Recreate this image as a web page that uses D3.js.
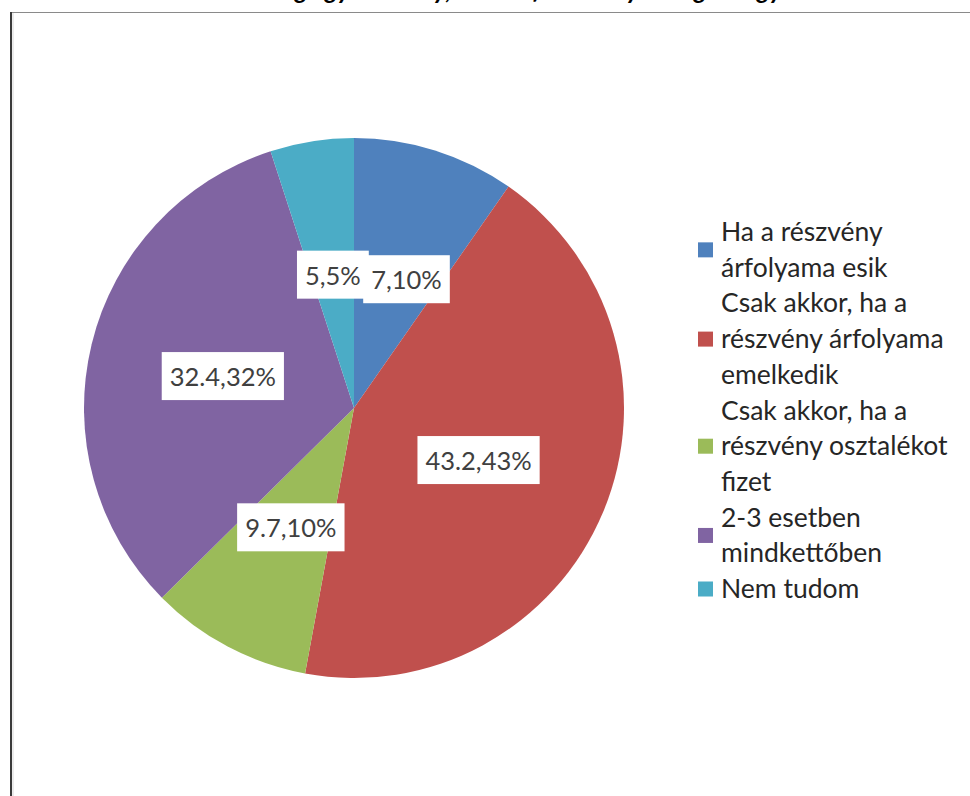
<!DOCTYPE html>
<html>
<head>
<meta charset="utf-8">
<script src="https://cdn.jsdelivr.net/npm/d3@7"></script>
<style>
  html, body { margin: 0; padding: 0; background: #ffffff; overflow: hidden; }
  svg { display: block; }
</style>
</head>
<body>
<svg id="chart" width="970" height="796"></svg>
<script>
// ---- data ----
const titleText = "Ön szerint mikor éri meg egy részvény, ha a befektető nyereséget vagy hozamot vár?";
const categories = [
  "Ha a részvény árfolyama esik",
  "Csak akkor, ha a részvény árfolyama emelkedik",
  "Csak akkor, ha a részvény osztalékot fizet",
  "2-3 esetben mindkettőben",
  "Nem tudom"
];
const values = [9.7, 43.2, 9.7, 32.4, 5];
const dataLabels = ["7,10%", "43.2,43%", "9.7,10%", "32.4,32%", "5,5%"];
const colors = ["#4F81BD", "#C0504D", "#9BBB59", "#8064A2", "#4BACC6"];

// ---- layout ----
const W = 970, H = 796;
const font = "Lato, 'Open Sans', sans-serif";
const svg = d3.select("#chart");

// title (cut off at top, as in the reference)
svg.append("text")
  .attr("x", 490).attr("y", -1)
  .attr("text-anchor", "middle")
  .attr("font-family", font)
  .attr("font-size", 25)
  .attr("font-weight", "bold")
  .attr("font-style", "italic")
  .attr("fill", "#000")
  .text(titleText);

// chart frame
svg.append("line").attr("x1", 10).attr("x2", W).attr("y1", 12.5).attr("y2", 12.5)
  .attr("stroke", "#8a8a8a").attr("stroke-width", 1.2);
svg.append("line").attr("x1", 11).attr("x2", 11).attr("y1", 12).attr("y2", H)
  .attr("stroke", "#3a3a3a").attr("stroke-width", 2);
svg.append("line").attr("x1", 13).attr("x2", 13).attr("y1", 13).attr("y2", H)
  .attr("stroke", "#d8d8d8").attr("stroke-width", 1);

// pie
const cx = 354, cy = 408, R = 270;
const pie = d3.pie().sort(null).value(d => d.value);
const arcs = pie(values.map((v, i) => ({ value: v, i })));
const arc = d3.arc().innerRadius(0).outerRadius(R);
const labelArc = d3.arc().innerRadius(R * 0.5).outerRadius(R * 0.5);

const g = svg.append("g").attr("transform", `translate(${cx},${cy})`);
g.selectAll("path.slice").data(arcs).enter().append("path")
  .attr("class", "slice")
  .attr("d", arc)
  .attr("fill", d => colors[d.data.i]);

// data labels: white boxes at arc centroids
const labelOrder = [4, 3, 2, 1, 0];
const placed = [];
labelOrder.forEach(i => {
  const a = arcs[i];
  let [lx, ly] = labelArc.centroid(a);
  const lg = g.append("g");
  const t = lg.append("text")
    .attr("text-anchor", "middle")
    .attr("dominant-baseline", "central")
    .attr("font-family", font)
    .attr("font-size", 25.5)
    .attr("fill", "#404040")
    .text(dataLabels[i]);
  const bb = t.node().getBBox();
  const padX = 8;
  let bw = bb.width + 2 * padX, bh = 48;
  // simple collision nudge: push right if overlapping an earlier box
  placed.forEach(p => {
    const overlapY = Math.abs(ly - p.y) < (bh + p.h) / 2;
    const dx = (lx - bw / 2) - (p.x + p.w / 2);
    if (overlapY && dx < 0 && lx > p.x) lx += Math.min(-dx, 12);
  });
  t.attr("x", lx).attr("y", ly);
  lg.insert("rect", "text")
    .attr("x", lx - bw / 2).attr("y", ly - bh / 2)
    .attr("width", bw).attr("height", bh)
    .attr("fill", "#ffffff");
  placed.push({ x: lx, y: ly, w: bw, h: bh });
});

// legend with word wrapping
const legFont = 26.5;
const legX = 698, legTextX = 721, legY0 = 241, lineH = 35.7, maxW = 245, sq = 15;
const measure = svg.append("text").attr("font-family", font).attr("font-size", legFont).attr("visibility", "hidden");
function wrap(str) {
  const words = str.split(" ");
  const lines = [];
  let cur = "";
  words.forEach(w => {
    const test = cur ? cur + " " + w : w;
    measure.text(test);
    if (measure.node().getComputedTextLength() > maxW && cur) { lines.push(cur); cur = w; }
    else cur = test;
  });
  if (cur) lines.push(cur);
  return lines;
}
let lineIdx = 0;
const leg = svg.append("g");
categories.forEach((c, i) => {
  const lines = wrap(c);
  const firstBase = legY0 + lineIdx * lineH;
  const midBase = firstBase + (lines.length - 1) * lineH / 2;
  leg.append("rect")
    .attr("x", legX).attr("y", midBase - 9 - sq / 2)
    .attr("width", sq).attr("height", sq)
    .attr("fill", colors[i]);
  lines.forEach((ln, k) => {
    leg.append("text")
      .attr("x", legTextX).attr("y", firstBase + k * lineH)
      .attr("font-family", font).attr("font-size", legFont)
      .attr("fill", "#262626")
      .text(ln);
  });
  lineIdx += lines.length;
});
measure.remove();
</script>
</body>
</html>
